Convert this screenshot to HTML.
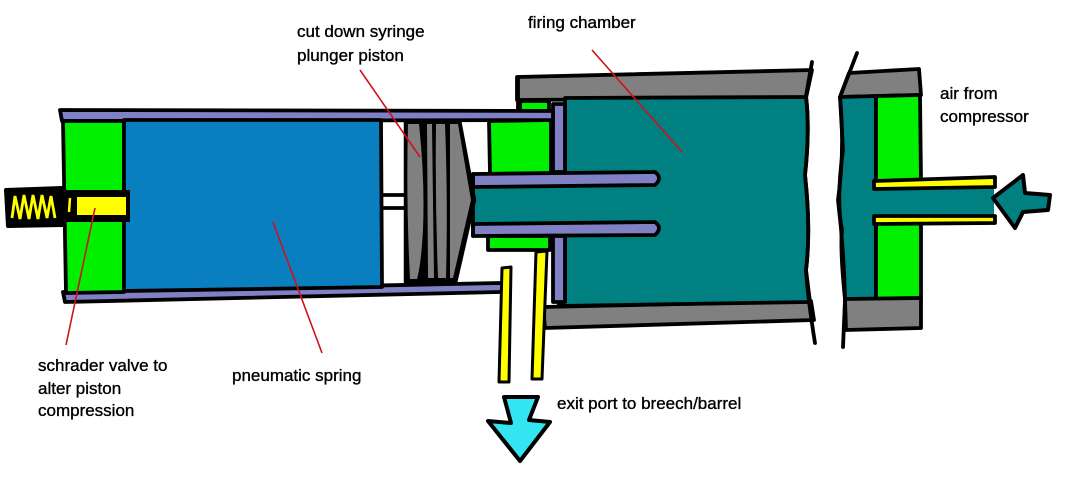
<!DOCTYPE html>
<html>
<head>
<meta charset="utf-8">
<style>
  html,body{margin:0;padding:0;background:#fff;}
  body{width:1069px;height:496px;overflow:hidden;}
  svg{display:block;}
  text{font-family:"Liberation Sans",Arial,sans-serif;font-size:17px;fill:#000;stroke:#000;stroke-width:0.35;}
</style>
</head>
<body>
<svg width="1069" height="496" viewBox="0 0 1069 496" xmlns="http://www.w3.org/2000/svg">
<rect width="1069" height="496" fill="#fff"/>
<g stroke="#000" stroke-width="3.8" stroke-linejoin="round" stroke-linecap="round">
  <!-- firing chamber housing -->
  <polygon points="517,77 812,70 806,98 517,100" fill="#808080"/>
  <polygon points="543,307 811,301 814,320 545,328" fill="#808080"/>
  <path d="M565,98 L806,97 Q810,130 805,175 Q811,230 806,270 L810,302 L558,306 L565,300 Z" fill="#008080"/>
  <path d="M518,77 L518,113" fill="none"/>
  <rect x="520" y="101" width="29" height="10" fill="#00f000"/>
  <rect x="553" y="104" width="12" height="68" fill="#8080c4"/>
  <rect x="553" y="236" width="12" height="66" fill="#8080c4"/>
  <path d="M489,121 L551,120 L551,173 L490,174 Z" fill="#00f000"/>
  <rect x="488" y="236" width="62" height="14" fill="#00f000"/>

  <!-- inner tube -->
  <rect x="474" y="186" width="96" height="38" fill="#008080" stroke="none"/>
  <path d="M473,174 L655,172 Q663,178 655,185 L473,187 Z" fill="#8080c4"/>
  <path d="M473,224 L655,222 Q663,228 655,235 L473,236 Z" fill="#8080c4"/>

  <!-- left cylinder -->
  <polygon points="60,110 553,111 553,120 62,121" fill="#8080c4"/>
  <path d="M63,292 L500,283 Q507,287 500,292 L65,302 Z" fill="#8080c4"/>
  <polygon points="63,121 124,121 124,292 66,293" fill="#00f000"/>
  <polygon points="124,120 381,120 382,287 124,291" fill="#0a7fc0"/>
  <path d="M382,195 L407,195 M382,208 L407,208" fill="none"/>

  <!-- piston -->
  <path d="M405,120 L460,120 L475,200 L456,283 L405,283 Z" fill="#000" stroke-width="2.5"/>
</g>
<g fill="#808080" stroke="none">
  <path d="M408,124 L419,124 Q425,180 423,230 Q421,265 417,279 L410,279 Q406,200 408,124 Z"/>
  <path d="M427,124 L432,124 L434,278 L428,278 Z"/>
  <path d="M436,124 L445,124 Q448,200 446,278 L438,278 Q435,200 436,124 Z"/>
  <path d="M450,124 L458,124 L471,200 L453,278 L450,278 Z"/>
</g>
<g stroke="#000" stroke-width="3.8" stroke-linejoin="round" stroke-linecap="round">
  <path d="M473,174 L473,236" fill="none"/>
  <!-- exit tubes -->
  <polygon points="502,268 511,267 509,382 499,382" fill="#ffff00" stroke-width="3"/>
  <polygon points="536,252 547,251 542,379 532,379" fill="#ffff00" stroke-width="3"/>

  <!-- schrader valve -->
  <path d="M6,190 L62,188 L63,225 L8,226 Z" fill="#000" stroke-width="4"/>
  <rect x="63" y="190" width="67" height="32" fill="#000" stroke="none"/>
</g>
<rect x="77" y="197" width="49" height="18" fill="#ffff00"/>
<polyline points="12,218 15,196 20,219 24,195 29,219 33,195 38,219 42,195 47,218 51,196 55,218" stroke="#ffff00" stroke-width="2.8" fill="none"/>
<path d="M70,198 L69,212" stroke="#ffff00" stroke-width="2.5"/>

<g stroke="#000" stroke-width="3.8" stroke-linejoin="round" stroke-linecap="round">
  <!-- right piece -->
  <polygon points="840,97 849,73 919,69 921,95" fill="#808080"/>
  <path d="M840,97 L876,96 L876,299 L845,299 Q840,250 842,230 Q836,200 843,150 Z" fill="#008080"/>
  <path d="M876,96 L920,95 L921,181 L876,181 Z" fill="#00f000"/>
  <path d="M876,223 L921,223 L921,298 L876,299 Z" fill="#00f000"/>
  <polygon points="845,299 921,298 921,328 846,330" fill="#808080"/>
  <rect x="874" y="187" width="120" height="30" fill="#008080" stroke="none"/>
  <polygon points="874,181 995,177 995,187 874,189" fill="#ffff00"/>
  <polygon points="874,216 995,216 995,223 874,224" fill="#ffff00"/>

  <!-- break lines -->
  <path d="M812,62 L806,96 Q810,130 805,175 Q811,230 806,270 Q808,300 815,343" fill="none"/>
  <path d="M857,53 L840,97 Q845,150 838,200 Q844,250 845,300 L843,347" fill="none"/>

  <!-- arrows -->
  <polygon points="993,198 1023,175 1025,193 1050,195 1048,210 1023,212 1015,228" fill="#008080" stroke-width="4"/>
  <polygon points="504,397 538,397 529,420 550,422 520,461 488,421 511,423" fill="#33e5f0" stroke-width="4"/>
</g>

<!-- leader lines -->
<g stroke="#d0101c" stroke-width="1.6" fill="none">
  <line x1="66" y1="345" x2="95" y2="208"/>
  <line x1="273" y1="222" x2="322" y2="353"/>
  <line x1="360" y1="70" x2="420" y2="157"/>
  <line x1="592" y1="50" x2="682" y2="152"/>
</g>

<!-- labels -->
<text x="297" y="37">cut down syringe</text>
<text x="297" y="61">plunger piston</text>
<text x="528" y="28">firing chamber</text>
<text x="940" y="99">air from</text>
<text x="940" y="122">compressor</text>
<text x="38" y="371">schrader valve to</text>
<text x="38" y="394">alter piston</text>
<text x="38" y="416">compression</text>
<text x="232" y="381">pneumatic spring</text>
<text x="557" y="409">exit port to breech/barrel</text>
</svg>
</body>
</html>
